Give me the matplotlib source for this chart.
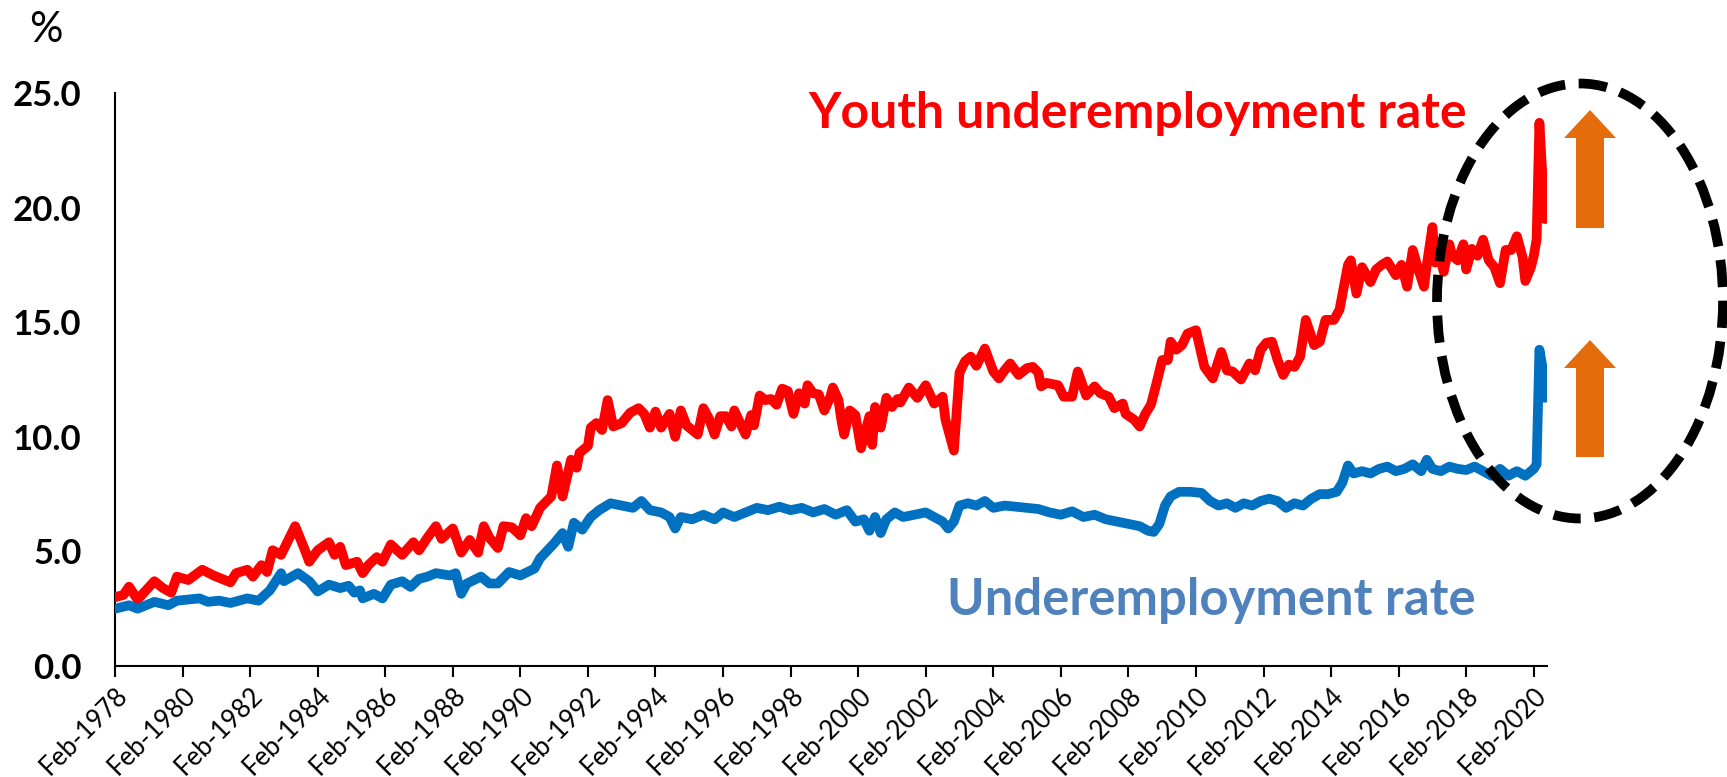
import matplotlib
matplotlib.use("Agg")
import matplotlib.pyplot as plt
from matplotlib.patches import Ellipse, FancyArrow
import numpy as np

#-------------------------------------------#
#------------------ DATA -------------------#
#-------------------------------------------#
# months counted from Feb-1978 (0 = Feb-1978, 508 = Jun-2020)
youth_month = [0, 3, 5, 8, 11, 14, 17, 20, 22, 26, 31, 35, 38, 41, 43, 47, 49, 52, 54, 56,
               59, 61, 64, 67, 69, 72, 76, 78, 80, 82, 86, 88, 90, 93, 95, 98, 102, 106, 108, 111,
               114, 116, 120, 123, 126, 129, 131, 133, 136, 138, 141, 144, 146, 148, 151, 155, 157, 159, 162, 164,
               165, 168, 169, 171, 173, 175, 177, 180, 183, 186, 188, 190, 192, 194, 197, 199, 201, 203, 207, 209,
               211, 213, 215, 217, 219, 220, 224, 226, 227, 229, 231, 233, 235, 237, 239, 241, 243, 245, 246, 248,
               250, 252, 254, 255, 257, 258, 259, 261, 263, 265, 268, 269, 270, 272, 274, 276, 278, 279, 282, 285,
               288, 291, 294, 295, 298, 300, 302, 304, 306, 309, 312, 314, 316, 318, 321, 324, 326, 328, 329, 331,
               335, 337, 340, 342, 345, 348, 350, 353, 355, 358, 359, 362, 364, 366, 368, 370, 372, 374, 375, 377,
               379, 381, 384, 387, 390, 393, 395, 397, 400, 403, 405, 407, 409, 411, 413, 415, 417, 419, 421, 423,
               426, 428, 430, 433, 435, 437, 438, 439, 441, 443, 446, 448, 450, 452, 455, 457, 459, 461, 463, 465,
               466, 468, 469, 470, 472, 474, 475, 477, 479, 480, 482, 484, 486, 488, 490, 492, 494, 496, 498, 500,
               501, 503, 504, 505, 506, 507, 508]
youth_rate = [3.0, 3.1, 3.46, 2.9, 3.3, 3.7, 3.4, 3.2, 3.9, 3.75, 4.2, 3.95, 3.8, 3.65, 4.05, 4.2, 3.9, 4.4, 4.1, 5.05,
              4.85, 5.35, 6.1, 5.2, 4.55, 5.05, 5.4, 4.85, 5.2, 4.4, 4.55, 4.05, 4.4, 4.75, 4.55, 5.3, 4.85, 5.4, 5.05, 5.6,
              6.1, 5.55, 6.0, 4.95, 5.5, 4.95, 6.1, 5.6, 5.15, 6.1, 6.05, 5.7, 6.45, 6.1, 6.9, 7.4, 8.75, 7.4, 9.0, 8.65,
              9.3, 9.6, 10.4, 10.6, 10.3, 11.6, 10.45, 10.6, 11.05, 11.25, 11.0, 10.4, 11.1, 10.4, 11.0, 10.0, 11.15, 10.5, 10.1, 11.25,
              10.8, 10.1, 10.9, 10.9, 10.45, 11.15, 10.1, 10.95, 10.5, 11.8, 11.6, 11.65, 11.4, 12.1, 12.0, 11.0, 11.9, 11.45, 12.25, 11.9,
              11.85, 11.15, 11.7, 12.15, 11.6, 10.75, 10.1, 11.15, 10.95, 9.5, 10.9, 9.65, 11.3, 10.4, 11.7, 11.3, 11.65, 11.5, 12.15, 11.7,
              12.25, 11.45, 11.75, 10.75, 9.4, 12.8, 13.3, 13.5, 13.1, 13.85, 12.85, 12.55, 12.9, 13.2, 12.7, 13.0, 13.05, 12.8, 12.2, 12.35,
              12.25, 11.75, 11.75, 12.85, 11.8, 12.2, 11.9, 11.75, 11.25, 11.45, 11.0, 10.75, 10.45, 11.0, 11.4, 12.35, 13.35, 13.35, 14.15, 13.8,
              14.0, 14.5, 14.65, 13.05, 12.55, 13.7, 12.9, 12.85, 12.5, 13.2, 12.9, 13.8, 14.1, 14.15, 13.35, 12.7, 13.15, 13.05, 13.5, 15.1,
              14.0, 14.15, 15.1, 15.1, 15.55, 16.85, 17.5, 17.7, 16.25, 17.4, 16.75, 17.3, 17.5, 17.65, 17.05, 17.5, 16.55, 18.15, 17.3, 16.55,
              17.5, 19.15, 17.6, 18.2, 17.2, 18.4, 17.9, 17.7, 18.4, 17.3, 18.2, 17.9, 18.6, 17.7, 17.4, 16.7, 18.15, 18.15, 18.75, 17.85,
              16.8, 17.4, 17.9, 18.6, 23.7, 21.5, 19.5]

total_month = [0, 5, 8, 14, 19, 22, 26, 30, 33, 37, 41, 44, 47, 51, 55, 59, 60, 65, 69, 72,
               76, 80, 83, 85, 87, 88, 92, 95, 98, 102, 105, 108, 111, 114, 119, 121, 123, 125, 130, 133,
               136, 140, 144, 149, 151, 156, 159, 161, 163, 166, 169, 172, 176, 180, 184, 187, 190, 194, 197, 199,
               201, 205, 209, 213, 216, 220, 224, 228, 232, 236, 240, 244, 248, 252, 256, 260, 263, 266, 268, 270,
               272, 274, 277, 280, 284, 288, 291, 294, 296, 298, 300, 303, 306, 309, 312, 316, 320, 324, 328, 332,
               336, 340, 344, 348, 352, 356, 360, 364, 367, 369, 371, 373, 375, 378, 382, 386, 389, 392, 395, 398,
               401, 404, 407, 410, 413, 416, 419, 422, 425, 428, 431, 434, 436, 438, 440, 443, 446, 449, 452, 455,
               458, 461, 464, 466, 468, 471, 474, 477, 480, 483, 486, 489, 492, 495, 498, 501, 504, 505, 506, 507,
               508]
total_rate = [2.5, 2.65, 2.5, 2.8, 2.65, 2.85, 2.9, 2.95, 2.8, 2.85, 2.75, 2.85, 2.95, 2.85, 3.3, 4.05, 3.7, 4.05, 3.7, 3.25,
              3.55, 3.4, 3.5, 3.2, 3.3, 2.95, 3.15, 2.95, 3.55, 3.7, 3.45, 3.8, 3.9, 4.05, 3.95, 4.05, 3.15, 3.6, 3.9, 3.6,
              3.6, 4.1, 3.95, 4.25, 4.7, 5.35, 5.8, 5.2, 6.25, 5.95, 6.5, 6.8, 7.1, 7.0, 6.9, 7.2, 6.8, 6.7, 6.5, 6.0,
              6.5, 6.4, 6.6, 6.4, 6.7, 6.5, 6.7, 6.9, 6.8, 6.95, 6.8, 6.9, 6.7, 6.85, 6.6, 6.8, 6.3, 6.4, 5.9, 6.5,
              5.8, 6.4, 6.7, 6.5, 6.6, 6.7, 6.5, 6.3, 6.0, 6.3, 7.0, 7.1, 7.0, 7.2, 6.9, 7.0, 6.95, 6.9, 6.85, 6.7,
              6.6, 6.75, 6.5, 6.6, 6.4, 6.3, 6.2, 6.1, 5.9, 5.85, 6.2, 7.0, 7.4, 7.6, 7.6, 7.55, 7.2, 7.0, 7.1, 6.9,
              7.1, 7.0, 7.2, 7.3, 7.2, 6.9, 7.1, 7.0, 7.3, 7.5, 7.5, 7.6, 8.0, 8.75, 8.4, 8.5, 8.4, 8.6, 8.7, 8.5,
              8.6, 8.8, 8.5, 9.0, 8.6, 8.5, 8.7, 8.6, 8.55, 8.7, 8.5, 8.3, 8.6, 8.3, 8.5, 8.3, 8.6, 8.8, 13.8, 13.1,
              11.7]

tick_month = list(range(0, 505, 24))
tick_label = ["Feb-1978", "Feb-1980", "Feb-1982", "Feb-1984", "Feb-1986", "Feb-1988",
              "Feb-1990", "Feb-1992", "Feb-1994", "Feb-1996", "Feb-1998", "Feb-2000",
              "Feb-2002", "Feb-2004", "Feb-2006", "Feb-2008", "Feb-2010", "Feb-2012",
              "Feb-2014", "Feb-2016", "Feb-2018", "Feb-2020"]

#-------------------------------------------#
#------------------ PLOT -------------------#
#-------------------------------------------#
plt.rcParams['font.family'] = ['Lato', 'DejaVu Sans']

W, H = 1727, 777
fig = plt.figure(figsize=(W / 100, H / 100), dpi=100)
ax = fig.add_axes([115 / W, 1 - 666 / H, (1547 - 115) / W, (666 - 93) / H])

ax.plot(youth_month, youth_rate, color='#FF0000', lw=7,
        solid_joinstyle='round', solid_capstyle='round', zorder=3)
ax.plot(total_month, total_rate, color='#0070C0', lw=7,
        solid_joinstyle='round', solid_capstyle='round', zorder=3)

ax.set_xlim(0, 508.7)
ax.set_ylim(0, 25)
ax.set_yticks([0, 5, 10, 15, 20, 25])
ax.set_yticklabels(["%.1f" % v for v in [0, 5, 10, 15, 20, 25]],
                   fontsize=25, fontweight='bold')
ax.tick_params(axis='y', length=0, pad=24)
ax.set_xticks(tick_month)
ax.set_xticklabels(tick_label, rotation=45, ha='right', rotation_mode='anchor',
                   fontsize=18.5)
ax.tick_params(axis='x', length=8, width=1.5, direction='out', pad=4)

for s in ['top', 'right']:
    ax.spines[s].set_visible(False)
for s in ['left', 'bottom']:
    ax.spines[s].set_linewidth(1.5)

# overlay in pixel coordinates for annotations
ov = fig.add_axes([0, 0, 1, 1], zorder=5)
ov.set_xlim(0, W)
ov.set_ylim(H, 0)
ov.axis('off')

ov.text(46, 30, "%", fontsize=30, ha='center', va='center')
ov.text(1467, 113, "Youth underemployment rate", color='#FF0000',
        fontsize=36, fontweight='bold', ha='right', va='center')
ov.text(1476, 600, "Underemployment rate", color='#4F81BD',
        fontsize=36.5, fontweight='bold', ha='right', va='center')

ov.add_patch(Ellipse((1580, 301), 286, 435, fill=False, edgecolor='black',
                     lw=7, linestyle=(0, (2.8, 1.4)), capstyle='butt'))

orange = '#E46C0A'
for tip, bottom in [(110, 228), (340, 457)]:
    ov.add_patch(FancyArrow(1590, bottom, 0, tip - bottom, width=28,
                            head_width=52, head_length=28,
                            length_includes_head=True, color=orange, lw=0))

fig.savefig("out.png", dpi=100)
